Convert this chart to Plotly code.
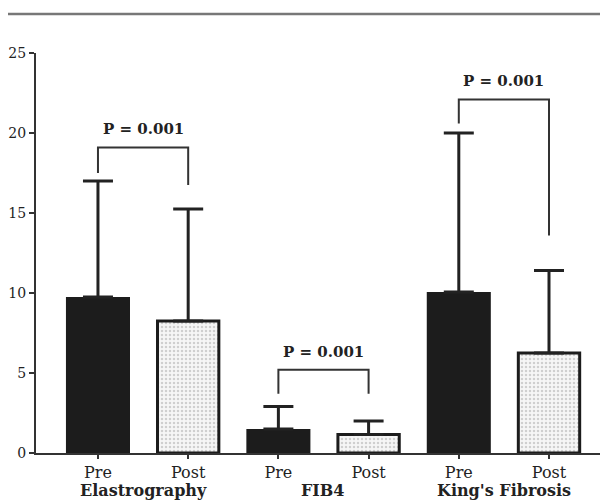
import plotly.graph_objects as go

# ---- data ----
groups = ["Elastrography", "FIB4", "King's Fibrosis"]
phase_labels = ["Pre", "Post"]
pre_means = [9.75, 1.5, 10.06]
pre_err_up = [7.25, 1.4, 9.94]
post_means = [8.25, 1.15, 6.25]
post_err_up = [7.0, 0.85, 5.15]
p_labels = ["P = 0.001", "P = 0.001", "P = 0.001"]
bracket_top = [19.1, 5.2, 22.1]
bracket_left_bottom = [17.5, 3.7, 20.6]
bracket_right_bottom = [16.75, 3.7, 13.6]
y_ticks = [0, 5, 10, 15, 20, 25]

FONT = "DejaVu Serif"
pre_x = [2 * i for i in range(len(groups))]
post_x = [2 * i + 1 for i in range(len(groups))]

fig = go.Figure()
fig.add_trace(go.Bar(
    x=pre_x, y=pre_means, width=0.71,
    marker=dict(color="#1c1c1c", line=dict(color="#1c1c1c", width=0)),
    error_y=dict(type="data", symmetric=False, array=pre_err_up,
                 arrayminus=[0] * len(pre_err_up), color="#222222",
                 thickness=3, width=15),
    showlegend=False,
))
fig.add_trace(go.Bar(
    x=post_x, y=post_means, width=0.68,
    marker=dict(color="#f4f4f4", line=dict(color="#1c1c1c", width=3),
                pattern=dict(shape=".", fgcolor="#a8a8a8", bgcolor="#f6f6f6",
                             size=4, solidity=0.3)),
    error_y=dict(type="data", symmetric=False, array=post_err_up,
                 arrayminus=[0] * len(post_err_up), color="#222222",
                 thickness=3, width=15),
    showlegend=False,
))

# significance brackets
for i in range(len(groups)):
    xl, xr = pre_x[i], post_x[i]
    fig.add_trace(go.Scatter(
        x=[xl, xl, xr, xr],
        y=[bracket_left_bottom[i], bracket_top[i], bracket_top[i], bracket_right_bottom[i]],
        mode="lines", line=dict(color="#333333", width=2),
        showlegend=False, hoverinfo="skip",
    ))
    fig.add_annotation(
        x=(xl + xr) / 2, y=bracket_top[i], text="<b>" + p_labels[i] + "</b>",
        showarrow=False, yanchor="bottom", yshift=7,
        font=dict(family=FONT, size=15, color="#222222"),
    )
    fig.add_annotation(
        x=(xl + xr) / 2, xref="x", y=-0.0925, yref="paper",
        text="<b>" + groups[i] + "</b>", showarrow=False, yanchor="middle",
        font=dict(family=FONT, size=16, color="#222222"),
    )

fig.add_shape(type="line", xref="paper", yref="paper",
              x0=-0.049, x1=1.0, y0=1.0975, y1=1.0975,
              line=dict(color="#777777", width=2.5))

fig.update_layout(
    width=600, height=495,
    margin=dict(l=28, r=0, t=45, b=50),
    plot_bgcolor="white", paper_bgcolor="white",
    barmode="overlay",
    font=dict(family=FONT, color="#222222"),
    xaxis=dict(
        range=[-0.687, 5.654], tickmode="array",
        tickvals=pre_x + post_x,
        ticktext=[phase_labels[0]] * len(pre_x) + [phase_labels[1]] * len(post_x),
        showline=True, linecolor="#333333", linewidth=2,
        ticks="outside", ticklen=4, tickwidth=1.5, tickcolor="#333333",
        tickfont=dict(family=FONT, size=16, color="#222222"),
        showgrid=False, zeroline=False, fixedrange=True,
    ),
    yaxis=dict(
        range=[0, 25], tickmode="array", tickvals=y_ticks,
        showline=True, linecolor="#333333", linewidth=2,
        ticks="outside", ticklen=5, tickwidth=1.5, tickcolor="#333333",
        tickfont=dict(family=FONT, size=14, color="#222222"),
        showgrid=False, zeroline=False,
    ),
)

fig.write_html("out.html")
